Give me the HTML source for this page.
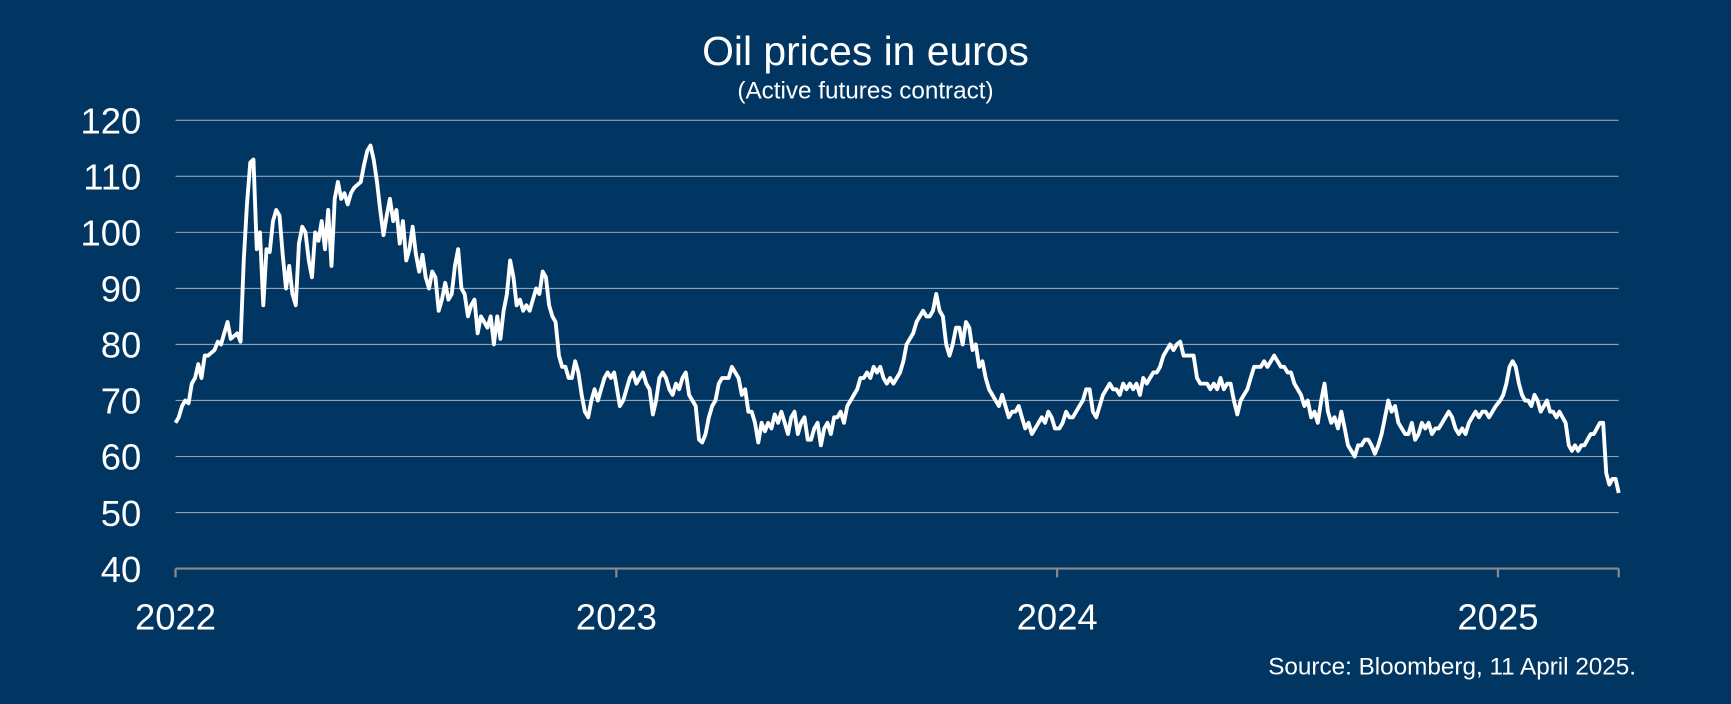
<!DOCTYPE html>
<html><head><meta charset="utf-8"><style>
html,body{margin:0;padding:0;background:#023662;}
svg{display:block;font-family:"Liberation Sans",Arial,sans-serif;}
</style></head><body>
<svg id="chart" width="1731" height="704" viewBox="0 0 1568 637.7" preserveAspectRatio="none" xmlns="http://www.w3.org/2000/svg">
<rect x="0" y="0" width="1568" height="638" fill="#023662"/>
<text x="784" y="59" text-anchor="middle" fill="#fff" font-size="37">Oil prices in euros</text>
<text x="784" y="89" text-anchor="middle" fill="#fff" font-size="22">(Active futures contract)</text>
<text x="1482" y="611" text-anchor="end" fill="#fff" font-size="22">Source: Bloomberg, 11 April 2025.</text>
<g id="grid"></g><g id="axes"></g><g id="series"></g>
</svg>
<script>
const yTicks=[40,50,60,70,80,90,100,110,120];
const years=[2022,2023,2024,2025];
const values2022=[66,67,69,70,69.5,73,74,76.5,74,78,78,78.5,79,80.5,80,82,84,81,81.5,82,80.5,95,105,112.5,113,97,100,87,97,96.5,102,104,103,96,90,94,89,87,98,101,100,95,92,100,98.5,102,97,104,94,106,109,106,107,105,107,108,108.5,109,112,114.5,115.5,113,109,104,99.5,103,106,102,104,98,102,95,97,101,96,93,96,92,90,93,92,86,88,91,88,89,94,97,90,89,85,87,88,82,85,84,83,85,80,85,81,86,89,95,92,87,88,86,87,86,88,90,89,93,92,87,85,84,78,76,76,74,74,77,75,71,68,67,70,72,70,72,74,75,74,75];
const values2023=[69,70,72,74,75,73,74,75,73,72,67.5,70,74,75,74,72,71,73,72,74,75,71,70,69,63,62.5,64,67,69,70,73,74,74,74,76,75,74,71,72,68,68,66,62.5,66,64.5,66,65,67.5,66,68,66,64,67,68,64,66,67,63,63,65,66,62,65,66,64,67,67,68,66,69,70,71,72,74,74,75,74,76,75,76,74,73,74,73,74,75,77,80,81,82,84,85,86,85,85,86,89,86,85,80,78,80,83,83,80,84,83,79,80,76,77,74,72,71,70,69,71,69,67,68,68,69,67,65,66,64,65,66,67,66,68,67,65];
const values2024=[65,66,68,67,67,68,69,70,72,72,68,67,69,71,72,73,72,72,71,73,72,73,72,73,71,74,73,74,75,75,76,78,79,80,79,80,80.5,78,78,78,78,74,73,73,73,72,73,72,74,72,73,73,70,67.5,70,71,72,74,76,76,76,77,76,77,78,77,76,76,75,75,73,72,71,69,70,67,68,66,70,73,68,66,67,65,68,65,62,61,60,62,62,63,63,62,60.5,62,64,67,70,68,69,66,65,64,64,66,63,64,66,65,66,64,65,65,66,67,68,67,65,64,65,64,66,67,68,67,68,68,67,68,69];
const values2025=[70,71,73,76,77,76,73,71,70,70,69,71,70,68,69,70,68,68,67,68,67,66,62,61,62,61,62,62,63,64,64,65,66,66,57,55,56,56,53.5];
const endFraction2025=100/365;

const NS="http://www.w3.org/2000/svg";
const X0=159, YEARW=399.3, Y0=515, UNIT=5.075;
function xScale(t){return X0+(t-2022)*YEARW;}
function yScale(v){return Y0-(v-40)*UNIT;}
function mk(tag,attrs,parent){const e=document.createElementNS(NS,tag);for(const k in attrs)e.setAttribute(k,attrs[k]);parent.appendChild(e);return e;}
const grid=document.getElementById('grid'),axes=document.getElementById('axes'),series=document.getElementById('series');
const xEnd=xScale(2025+endFraction2025);
yTicks.forEach(v=>{
  const y=yScale(v);
  if(v>40){
    const l=mk('line',{x1:X0,x2:xEnd,y1:y,y2:y,stroke:'#8ea2b8','stroke-width':1},grid);
    
    
  }
  const t=mk('text',{x:128,y:y+12,'text-anchor':'end',fill:'#fff','font-size':33},axes);
  t.textContent=v;
  
  
});
const ax=mk('line',{x1:X0,x2:xEnd,y1:Y0,y2:Y0,stroke:'#8a8a8a','stroke-width':2},axes);


years.forEach(yr=>{
  const x=xScale(yr);
  const tk=mk('line',{x1:x,x2:x,y1:Y0,y2:Y0+8,stroke:'#8a8a8a','stroke-width':2},axes);
  
  
  const t=mk('text',{x:x,y:570,'text-anchor':'middle',fill:'#fff','font-size':33},axes);
  t.textContent=yr;
  
  
});
const tkEnd=mk('line',{x1:xEnd,x2:xEnd,y1:Y0,y2:Y0+8,stroke:'#8a8a8a','stroke-width':2},axes);


const pts=[];
function addYear(arr,yr,f0,f1){const n=arr.length;arr.forEach((v,i)=>{const t=yr+f0+(f1-f0)*(n>1?i/(n-1):0);pts.push(xScale(t).toFixed(1)+','+yScale(v).toFixed(1));});}
addYear(values2022,2022,0,0.995);
addYear(values2023,2023,0.008,0.995);
addYear(values2024,2024,0.005,0.995);
addYear(values2025,2025,0.005,endFraction2025);
const pl=mk('polyline',{points:pts.join(' '),fill:'none',stroke:'#fff','stroke-width':3.5,'stroke-linejoin':'round'},series);


</script>
</body></html>
